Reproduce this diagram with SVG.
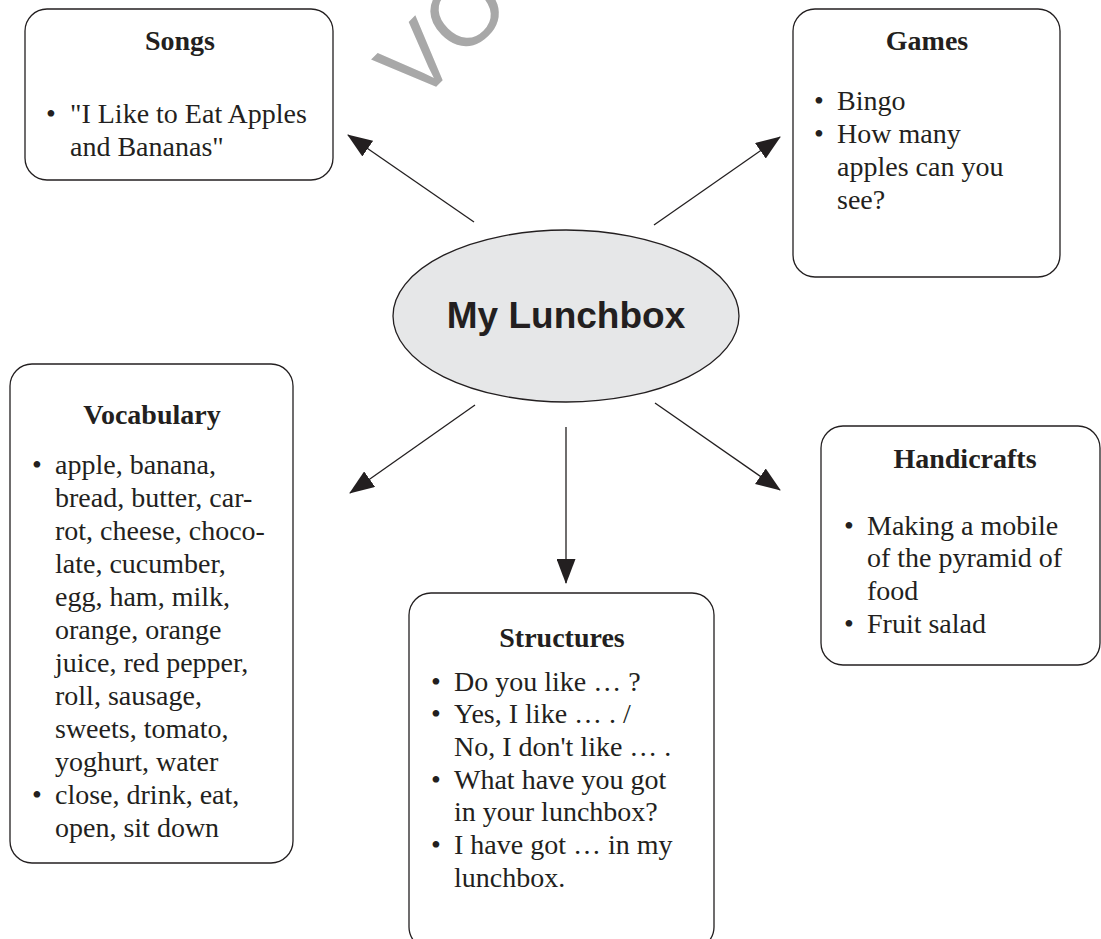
<svg xmlns="http://www.w3.org/2000/svg" width="1101" height="939" viewBox="0 0 1101 939">
<defs>
<style>
.box{fill:#fff;stroke:#231f20;stroke-width:1.3}
.t{font-family:"Liberation Serif","Times New Roman",serif;font-size:28px;fill:#231f20}
.h{font-family:"Liberation Serif","Times New Roman",serif;font-size:28px;font-weight:bold;fill:#231f20;text-anchor:middle}
.c{stroke:#231f20;stroke-width:1.3;fill:none;marker-end:url(#ah)}
</style>
<marker id="ah" viewBox="0 0 25 19" refX="24" refY="9.5" markerWidth="25" markerHeight="19" markerUnits="userSpaceOnUse" orient="auto">
<path d="M0,0 L25,9.5 L0,19 z" fill="#231f20"/>
</marker>
</defs>
<rect width="1101" height="939" fill="#fff"/>
<text x="417" y="106" transform="rotate(-45 417 106)" font-family="Liberation Sans,Arial,sans-serif" font-size="95" fill="#a8a8a8">VO</text>
<g id="connectors">
<line class="c" x1="474" y1="222" x2="348" y2="135"/>
<line class="c" x1="654" y1="225" x2="780" y2="137"/>
<line class="c" x1="475" y1="405" x2="350" y2="493"/>
<line class="c" x1="566" y1="427" x2="566" y2="583"/>
<line class="c" x1="655" y1="403" x2="780" y2="490"/>
</g>
<g id="center">
<ellipse cx="566" cy="316" rx="173" ry="86" fill="#e6e7e8" stroke="#231f20" stroke-width="1.3"/>
<text x="566" y="328" text-anchor="middle" font-family="Liberation Sans,Arial,sans-serif" font-weight="bold" font-size="37" fill="#231f20">My Lunchbox</text>
</g>
<g id="songs">
<rect class="box" x="25" y="9" width="308" height="171" rx="22"/>
<text class="h" x="180" y="50">Songs</text>
<text class="t" x="46" y="123">•</text>
<text class="t" x="70" y="123">"I Like to Eat Apples</text>
<text class="t" x="70" y="156">and Bananas"</text>
</g>
<g id="games">
<rect class="box" x="793" y="9" width="267" height="268" rx="22"/>
<text class="h" x="927" y="50">Games</text>
<text class="t" x="814" y="110">•</text>
<text class="t" x="837" y="110">Bingo</text>
<text class="t" x="814" y="143">•</text>
<text class="t" x="837" y="143">How many</text>
<text class="t" x="837" y="176">apples can you</text>
<text class="t" x="837" y="209">see?</text>
</g>
<g id="vocabulary">
<rect class="box" x="10" y="364" width="283" height="499" rx="22"/>
<text class="h" x="152" y="424">Vocabulary</text>
<text class="t" x="32" y="474">•</text>
<text class="t" x="55" y="474">apple, banana,</text>
<text class="t" x="55" y="507">bread, butter, car-</text>
<text class="t" x="55" y="540">rot, cheese, choco-</text>
<text class="t" x="55" y="573">late, cucumber,</text>
<text class="t" x="55" y="606">egg, ham, milk,</text>
<text class="t" x="55" y="639">orange, orange</text>
<text class="t" x="55" y="672">juice, red pepper,</text>
<text class="t" x="55" y="705">roll, sausage,</text>
<text class="t" x="55" y="738">sweets, tomato,</text>
<text class="t" x="55" y="771">yoghurt, water</text>
<text class="t" x="32" y="804">•</text>
<text class="t" x="55" y="804">close, drink, eat,</text>
<text class="t" x="55" y="837">open, sit down</text>
</g>
<g id="structures">
<rect class="box" x="409" y="593" width="305" height="356" rx="22"/>
<text class="h" x="562" y="647">Structures</text>
<text class="t" x="431" y="691">•</text>
<text class="t" x="454" y="691">Do you like … ?</text>
<text class="t" x="431" y="723">•</text>
<text class="t" x="454" y="723">Yes, I like … . /</text>
<text class="t" x="454" y="756">No, I don't like … .</text>
<text class="t" x="431" y="789">•</text>
<text class="t" x="454" y="789">What have you got</text>
<text class="t" x="454" y="821">in your lunchbox?</text>
<text class="t" x="431" y="854">•</text>
<text class="t" x="454" y="854">I have got … in my</text>
<text class="t" x="454" y="887">lunchbox.</text>
</g>
<g id="handicrafts">
<rect class="box" x="821" y="426" width="279" height="239" rx="22"/>
<text class="h" x="965" y="468">Handicrafts</text>
<text class="t" x="844" y="535">•</text>
<text class="t" x="867" y="535">Making a mobile</text>
<text class="t" x="867" y="567">of the pyramid of</text>
<text class="t" x="867" y="600">food</text>
<text class="t" x="844" y="633">•</text>
<text class="t" x="867" y="633">Fruit salad</text>
</g>
</svg>
